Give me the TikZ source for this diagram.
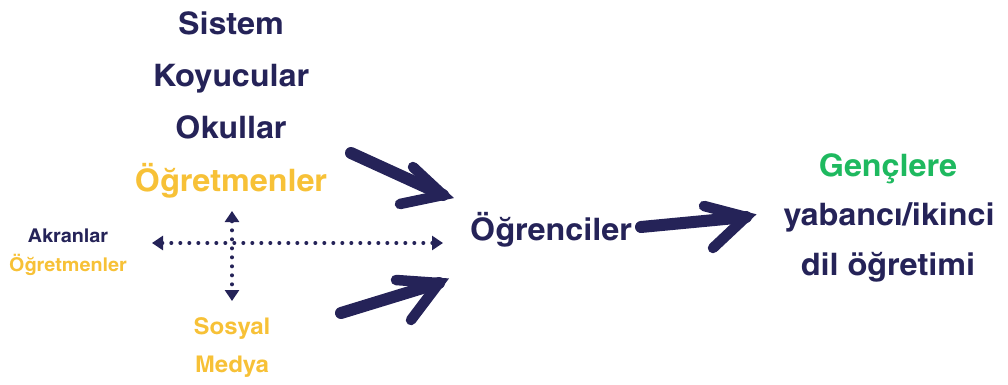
\documentclass[tikz,border=0pt]{standalone}
\usepackage{fontspec}
\setmainfont[FakeStretch=1.27]{TeX Gyre Heros Cn}
\usepackage{tikz}
\usetikzlibrary{arrows.meta}

\definecolor{lacivert}{RGB}{37,35,88}
\definecolor{sari}{RGB}{247,193,55}
\definecolor{yesil}{RGB}{30,185,95}

\tikzset{
    buyuk/.style={font=\bfseries\fontsize{31}{31}\selectfont, text=lacivert, anchor=base, inner sep=0pt},
    orta/.style={font=\bfseries\fontsize{23}{23}\selectfont, text=sari, anchor=base, inner sep=0pt},
    kucuk/.style={font=\bfseries\fontsize{19}{19}\selectfont, text=lacivert, anchor=base, inner sep=0pt},
    firca/.style={draw=lacivert, line width=12pt, line cap=round, line join=round},
    kanca/.style={draw=lacivert, line width=10.5pt, line cap=round, line join=miter},
    noktali/.style={draw=lacivert, line width=4pt, line cap=round, dash pattern=on 0pt off 9pt,
        {Triangle[length=11pt,width=14pt]}-{Triangle[length=11pt,width=14pt]}},
}

\begin{document}
\begin{tikzpicture}[x=1pt,y=-1pt]
    \useasboundingbox (0,0) rectangle (1008,385);
    % sol blok
    \node[buyuk] (sistem) at (231,35) {Sistem};
    \node[buyuk] (koyucu) at (231,87) {Koyucular};
    \node[buyuk] (okul) at (231,139) {Okullar};
    \node[buyuk, text=sari] (ogretmen) at (231,191) {Öğretmenler};
    \node[kucuk] (akran) at (68,242) {Akranlar};
    \node[kucuk, text=sari] (akranogr) at (68,271) {Öğretmenler};
    \node[orta] (sosyal) at (232,334) {Sosyal};
    \node[orta] (medya) at (232,372) {Medya};
    % orta ve sag
    \node[buyuk] (ogrenci) at (551,240) {Öğrenciler};
    \node[buyuk, text=yesil] (gencler) at (888,176) {Gençlere};
    \node[buyuk] (yabanci) at (889,225) {yabancı/ikinci};
    \node[buyuk] (dil) at (888,275) {dil öğretimi};

    % noktali carpi
    \coordinate (solU) at (152,243);
    \coordinate (sagU) at (443,243);
    \coordinate (ustU) at (232,211);
    \coordinate (altU) at (232,301);
    \draw[noktali] (solU) -- (sagU);
    \draw[noktali] (ustU) -- (altU);

    % firca oklari
    \coordinate (b1) at (351,153);
    \coordinate (u1) at (443,195);
    \draw[firca] (b1) -- (u1);
    \draw[kanca] (413,167) -- (u1) -- (400,204);

    \coordinate (b2) at (341,313);
    \coordinate (u2) at (439,283);
    \draw[firca] (b2) -- (u2);
    \draw[kanca] (396,280) -- (u2) -- (411,320);

    \coordinate (b3) at (641,227);
    \coordinate (u3) at (746,217);
    \draw[firca] (b3) -- (u3);
    \draw[kanca] (704,206) -- (u3) -- (713,248);
\end{tikzpicture}
\end{document}
